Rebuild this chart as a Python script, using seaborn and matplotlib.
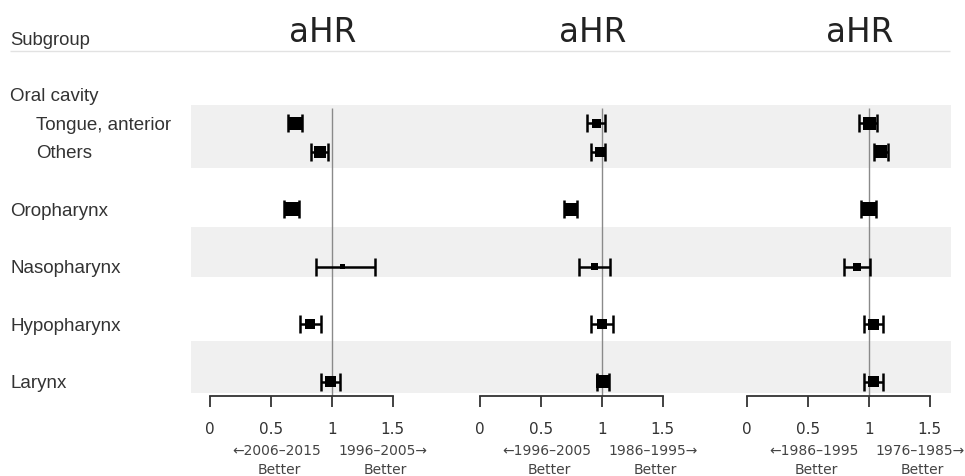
import numpy as np
import pandas as pd
import matplotlib
matplotlib.use("Agg")
import matplotlib.pyplot as plt
from matplotlib.patches import Rectangle
import seaborn as sns

# row layout of the table (blank strings are spacer rows)
ROWS = ["Oral cavity", "Tongue, anterior", "Others", "", "Oropharynx", "",
        "Nasopharynx", "", "Hypopharynx", "", "Larynx"]
INDENTED = ["Tongue, anterior", "Others"]
SITES = ["Tongue, anterior", "Others", "Oropharynx", "Nasopharynx",
         "Hypopharynx", "Larynx"]

# panel 1: 2006-2015 vs 1996-2005
hr_1 = [0.70, 0.90, 0.67, 1.09, 0.82, 0.99]
lo_1 = [0.64, 0.83, 0.61, 0.87, 0.74, 0.91]
hi_1 = [0.76, 0.97, 0.73, 1.36, 0.91, 1.07]
box_1 = [13, 12, 14, 5, 10, 11]

# panel 2: 1996-2005 vs 1986-1995
hr_2 = [0.96, 0.99, 0.75, 0.94, 1.00, 1.01]
lo_2 = [0.88, 0.91, 0.69, 0.81, 0.91, 0.96]
hi_2 = [1.03, 1.03, 0.80, 1.07, 1.09, 1.06]
box_2 = [9, 10, 13, 7, 10, 13]

# panel 3: 1986-1995 vs 1976-1985
hr_3 = [1.01, 1.10, 1.00, 0.90, 1.04, 1.04]
lo_3 = [0.92, 1.04, 0.94, 0.80, 0.96, 0.96]
hi_3 = [1.07, 1.16, 1.06, 1.01, 1.12, 1.12]
box_3 = [13, 13, 14, 8, 11, 11]

PERIODS = [("2006–2015", "1996–2005"),
           ("1996–2005", "1986–1995"),
           ("1986–1995", "1976–1985")]
TICKS = [0, 0.5, 1, 1.5]
TICK_LABELS = ["0", "0.5", "1", "1.5"]

panels = [(hr_1, lo_1, hi_1, box_1), (hr_2, lo_2, hi_2, box_2),
          (hr_3, lo_3, hi_3, box_3)]

# ---- layout (pixels of the 965x476 canvas) ----
W, H = 965, 476
ROW0, ROWH = 94.5, 28.7
PANEL_X0 = [210, 480, 747]
PANEL_W = 182.5


def px2row(p):
    return (p - ROW0) / ROWH


sns.set_style("white")
plt.rcParams["font.family"] = ["Liberation Sans", "DejaVu Sans"]

fig = plt.figure(figsize=(9.65, 4.76), dpi=100)
bg = fig.add_axes([0, 0, 1, 1])
bg.set_xlim(0, W)
bg.set_ylim(px2row(H), px2row(0))
bg.axis("off")

# zebra bands
for top, bot in [(104.5, 168.3), (226.7, 276.7), (341, 392.7)]:
    bg.add_patch(Rectangle((191, px2row(top)), 760, px2row(bot) - px2row(top),
                           facecolor="#f0f0f0", edgecolor="none", zorder=0))

# header
bg.hlines(px2row(51), 10, 950, color="#e2e2e2", lw=1)
bg.text(10, px2row(45), "Subgroup", ha="left", va="baseline",
        fontsize=13.3, color="#333333")

for i, lab in enumerate(ROWS):
    if not lab:
        continue
    x = 36 if lab in INDENTED else 10
    bg.text(x, i + 0.07, lab, ha="left", va="center", fontsize=13.5, color="#333333")

for k, (hr, lo, hi, box) in enumerate(panels):
    df = pd.DataFrame({"site": SITES, "hr": hr, "lo": lo, "hi": hi, "box": box})
    df["row"] = [ROWS.index(s) for s in SITES]

    ax = fig.add_axes([PANEL_X0[k] / W, 0, PANEL_W / W, 1])
    ax.patch.set_alpha(0)
    ax.set_xlim(0, 1.5)
    ax.set_ylim(px2row(H), px2row(0))

    ax.vlines(1, px2row(108), px2row(396), color="#8a8a8a", lw=1, zorder=1)
    ax.errorbar(df["hr"], df["row"], xerr=[df["hr"] - df["lo"], df["hi"] - df["hr"]],
                fmt="none", ecolor="black", elinewidth=1.8, capsize=6.5,
                capthick=1.8, zorder=2, clip_on=False)
    sns.scatterplot(data=df, x="hr", y="row", marker="s", color="black",
                    s=(df["box"] * 0.72) ** 2, linewidth=0, legend=False,
                    zorder=3, clip_on=False, ax=ax)

    sns.despine(ax=ax, left=True)
    ax.spines["bottom"].set_position(("data", px2row(396)))
    ax.spines["bottom"].set_bounds(0, 1.5)
    ax.spines["bottom"].set_color("#333333")
    ax.spines["bottom"].set_linewidth(1.3)
    ax.set_xticks(TICKS, labels=TICK_LABELS)
    ax.set_yticks([])
    ax.set_xlabel("")
    ax.set_ylabel("")
    ax.tick_params(axis="x", bottom=True, direction="out", length=8, width=1.3,
                   color="#333333", pad=11, labelsize=11, labelcolor="#333333")
    for t in ax.get_xticklabels():
        t.set_family("DejaVu Sans")

    ax.text(0.93, px2row(42), "aHR", ha="center", va="baseline", fontsize=23.5,
            family="DejaVu Sans", color="#222222")

    left, right = PERIODS[k]
    for x, line1 in [(0.55, "←" + left), (1.42, right + "→")]:
        ax.text(x, px2row(451), line1, ha="center", va="center", fontsize=10,
                family="DejaVu Sans", color="#444444")
        ax.text(x + 0.02, px2row(470), "Better", ha="center", va="center",
                fontsize=10, family="DejaVu Sans", color="#444444")

fig.savefig("out.png", dpi=100)
